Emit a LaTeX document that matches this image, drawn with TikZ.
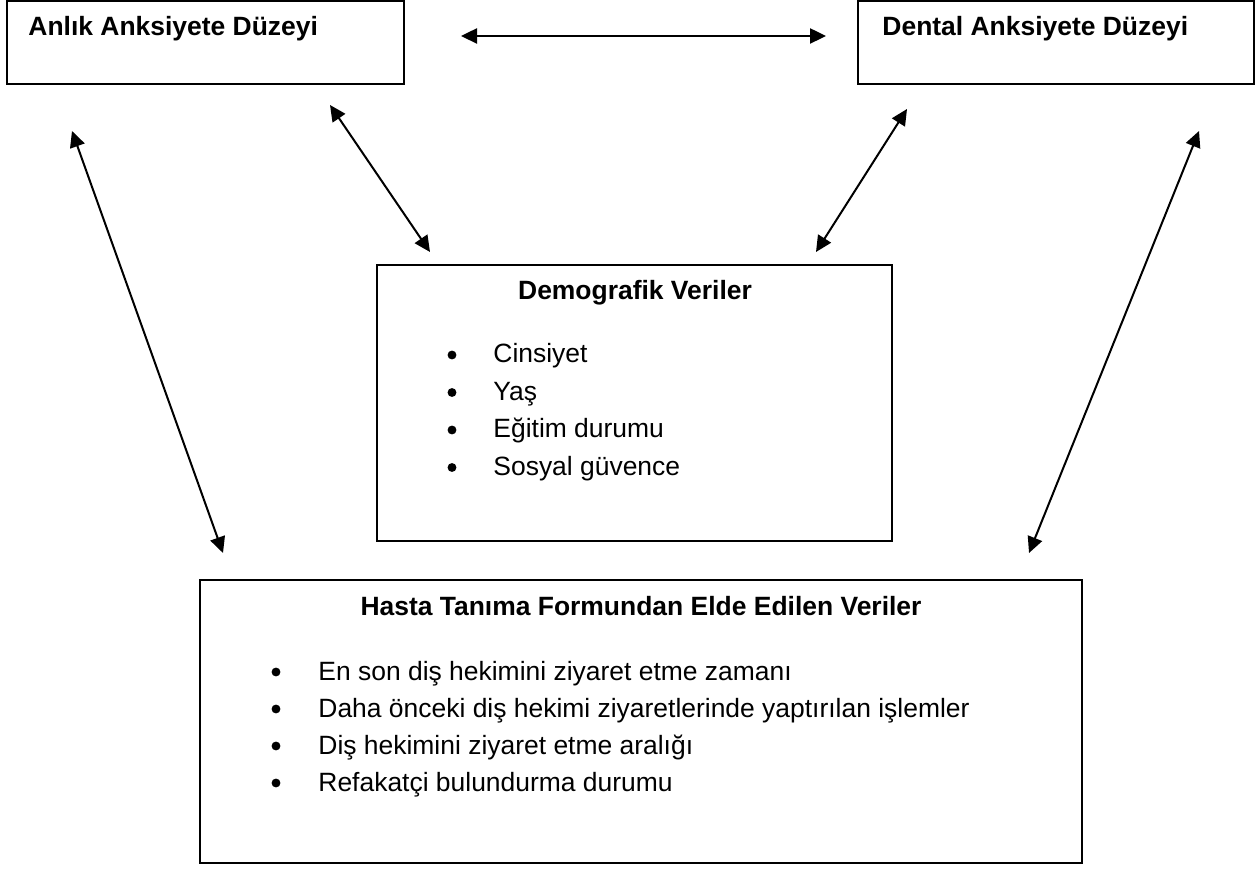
\documentclass[tikz,border=0pt]{standalone}
\usepackage{fontspec}
\setmainfont{Liberation Sans}
\usepackage{tikz}
\usetikzlibrary{arrows.meta}
\usetikzlibrary{fit}
\tikzset{>={Triangle[length=7.2pt,width=6.8pt]}}
\tikzset{kutu/.style={draw, line width=0.9pt, inner sep=0pt},
	yazi/.style={inner sep=0pt, font=\fontsize{11.9}{14}\selectfont},
	nokta/.style={circle, fill, inner sep=0pt, minimum size=4pt},
	ok/.style={<->, line width=0.9pt}}

\begin{document}
\begin{tikzpicture}[x=0.45pt,y=-0.45pt]
	\useasboundingbox (0,0) rectangle (1256,870);
	% kutular
	\node[kutu, fit={(7,1) (404,84)}] (anlik) {};
	\node[kutu, fit={(858,1) (1254,84)}] (dental) {};
	\node[kutu, fit={(377,265) (892,541)}] (demo) {};
	\node[kutu, fit={(200,580) (1082,863)}] (hasta) {};

	\node[yazi, anchor=base west] (anlikT) at (28,36) {\bfseries Anlık Anksiyete Düzeyi};
	\node[yazi, anchor=base west] (dentalT) at (882,36) {\bfseries Dental Anksiyete Düzeyi};
	\node[yazi, anchor=base] (demoT) at (635,300) {\bfseries Demografik Veriler};
	\node[yazi, anchor=base] (hastaT) at (641,615) {\bfseries Hasta Tanıma Formundan Elde Edilen Veriler};

	\foreach \m [count=\i] in {Cinsiyet, Yaş, Eğitim durumu, Sosyal güvence}{
		\node[nokta] (dm\i) at (452,{355+37.5*(\i-1)}) {};
		\node[yazi, anchor=base west] (dmT\i) at (493,{363+37.5*(\i-1)}) {\m};
	}
	\foreach \m [count=\i] in {En son diş hekimini ziyaret etme zamanı, Daha önceki diş hekimi ziyaretlerinde yaptırılan işlemler, Diş hekimini ziyaret etme aralığı, Refakatçi bulundurma durumu}{
		\node[nokta] (hm\i) at (276,{672+37*(\i-1)}) {};
		\node[yazi, anchor=base west] (hmT\i) at (318,{680+37*(\i-1)}) {\m};
	}

	% oklar
	\coordinate (u1) at (461,36);
	\coordinate (u2) at (826,36);
	\coordinate (s1) at (72,131);
	\coordinate (s2) at (223,553);
	\coordinate (a1) at (330,105);
	\coordinate (a2) at (430,252);
	\coordinate (d1) at (907,109);
	\coordinate (d2) at (816,252);
	\coordinate (r1) at (1199,131);
	\coordinate (r2) at (1029,553);
	\draw[ok] (u1) -- (u2);
	\draw[ok] (s1) -- (s2);
	\draw[ok] (a1) -- (a2);
	\draw[ok] (d1) -- (d2);
	\draw[ok] (r1) -- (r2);
\end{tikzpicture}
\end{document}
